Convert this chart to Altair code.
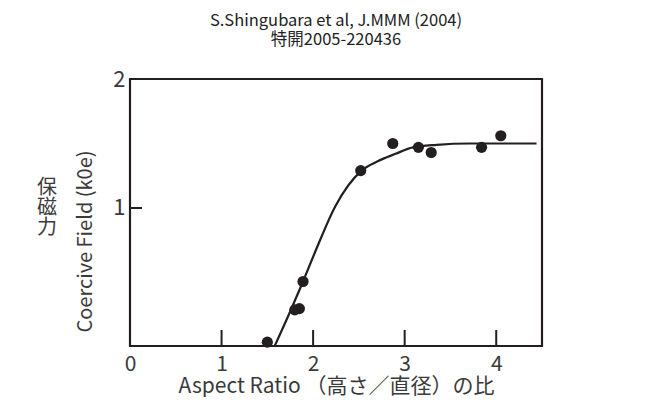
import altair as alt
import pandas as pd

# measured data points
pt_x = [1.50, 1.80, 1.85, 1.89, 2.52, 2.87, 3.15, 3.29, 3.84, 4.05]
pt_y = [-0.04, 0.21, 0.22, 0.43, 1.29, 1.50, 1.47, 1.43, 1.47, 1.56]

# fitted curve
cv_x = [1.58, 1.745, 1.89, 2.04, 2.24, 2.53, 2.70, 2.90, 3.09, 3.35, 3.71, 4.44]
cv_y = [-0.07, 0.19, 0.43, 0.69, 1.01, 1.29, 1.36, 1.42, 1.47, 1.49, 1.50, 1.50]

x_ticks = [1, 2, 3, 4]
x_labels = [0, 1, 2, 3, 4]
y_ticks = [1]
y_labels = [1, 2]

title_lines = ["S.Shingubara et al, J.MMM (2004)", "特開2005-220436"]
x_title = "Aspect Ratio （高さ／直径）の比"
y_title = "Coercive Field (k0e)"
y_title_jp = ["保", "磁", "力"]

W, H = 412, 267
INK = "#231f20"
TXT = "#3a3a3a"
FONT = "Noto Sans CJK JP"

pts = pd.DataFrame({"x": pt_x, "y": pt_y})
crv = pd.DataFrame({"x": cv_x, "y": cv_y})
xt = pd.DataFrame({"x": x_ticks})
yt = pd.DataFrame({"y": y_ticks})

xs = alt.Scale(domain=[0, 4.5], nice=False, zero=False)
ys = alt.Scale(domain=[-0.07, 2], nice=False, zero=False)

xaxis = alt.Axis(values=x_labels, format="d", ticks=False, domain=False, grid=False,
                 labelFlush=False, labelOverlap=False,
                 labelFontSize=21, labelColor=TXT, labelFont=FONT, labelPadding=7,
                 title=x_title, titleFontSize=21, titleFontWeight="normal",
                 titleColor=TXT, titleFont=FONT, titleY=46, titleBaseline="alphabetic")
yaxis = alt.Axis(values=y_labels, format="d", ticks=False, domain=False, grid=False,
                 labelFlush=False, labelOverlap=False,
                 labelFontSize=22, labelColor=TXT, labelFont=FONT, labelPadding=5,
                 title=y_title, titleFontSize=20, titleFontWeight="normal",
                 titleColor=TXT, titleFont=FONT, titleX=-45, titleY=162,
                 titleBaseline="middle", titleAngle=-90)

line = alt.Chart(crv).mark_line(color=INK, strokeWidth=2.2, interpolate="monotone", clip=True).encode(
    x=alt.X("x:Q", scale=xs, axis=xaxis),
    y=alt.Y("y:Q", scale=ys, axis=yaxis),
)
dots = alt.Chart(pts).mark_point(filled=True, color=INK, opacity=1, size=125, shape="circle").encode(
    x=alt.X("x:Q", scale=xs), y=alt.Y("y:Q", scale=ys)
)
xtick = alt.Chart(xt).mark_rule(color=INK, strokeWidth=2).encode(
    x=alt.X("x:Q", scale=xs), y=alt.value(H - 16), y2=alt.value(H)
)
ytick = alt.Chart(yt).mark_rule(color=INK, strokeWidth=2).encode(
    y=alt.Y("y:Q", scale=ys), x=alt.value(0), x2=alt.value(12)
)
jp = alt.Chart(pd.DataFrame({"t": [y_title_jp]})).mark_text(
    font=FONT, fontSize=20, color=TXT, lineHeight=20, baseline="top", align="center"
).encode(text="t", x=alt.value(-83), y=alt.value(99))

chart = alt.layer(line, dots, xtick, ytick, jp).properties(
    width=W, height=H,
    autosize=alt.AutoSizeParams(type="none"),
    padding={"left": 122, "top": 71, "right": 80, "bottom": 51},
    title=alt.TitleParams(text=title_lines, fontSize=16.5, font=FONT, fontWeight="normal",
                          color="#222", anchor="middle", lineHeight=19, offset=20),
).configure_view(stroke=INK, strokeWidth=2.2)

chart.save("out.html", embed_options={"renderer": "svg", "actions": False})
